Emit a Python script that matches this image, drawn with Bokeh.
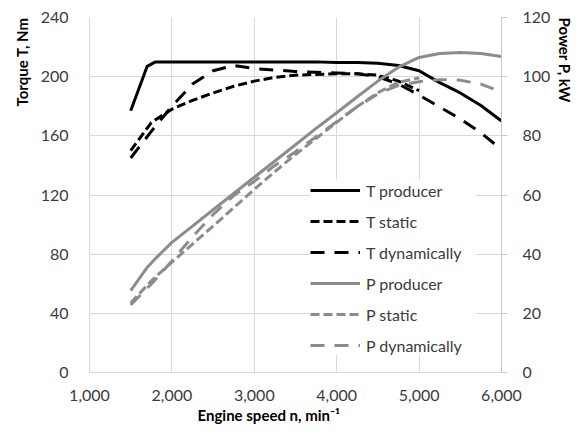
import math
from bokeh.plotting import figure
from bokeh.models import (Range1d, LinearAxis, FixedTicker, NumeralTickFormatter,
                          Legend, LegendItem, Title)
from bokeh.embed import file_html
from bokeh.resources import INLINE

# ---- data ----
rpm_producer = [1500, 1700, 1800, 2000, 2250, 2500, 2750, 3000, 3250, 3500, 3750,
                4000, 4250, 4500, 4750, 5000, 5250, 5500, 5750, 6000]
t_producer = [177, 207, 210, 210, 210, 210, 210, 210, 210, 210, 210,
              209.5, 209.5, 209, 207.5, 204, 196, 189, 180.5, 170]
p_producer = [27.7, 35.5, 38.5, 44, 49.5, 55, 60.5, 66, 71.5, 77, 82.5,
              87.8, 93.2, 98.5, 103.2, 106.5, 107.8, 108.2, 107.8, 106.8]

rpm_static = [1500, 1750, 2000, 2250, 2500, 2750, 3000, 3250, 3500, 3750,
              4000, 4250, 4500, 4750, 5000]
t_static = [150, 169, 178, 184, 189, 193.5, 197, 199.5, 201, 201.5,
            202, 202, 201, 197, 190.5]
p_static = [23.5, 31, 37.3, 43.4, 49.5, 55.7, 61.9, 67.9, 73.7, 79.1,
            84.6, 89.9, 94.6, 98.1, 99.6]

rpm_dyn = [1500, 1750, 2000, 2250, 2500, 2750, 3000, 3250, 3500, 3750,
           4000, 4250, 4500, 4750, 5000, 5250, 5500, 5750, 5950]
t_dyn = [145, 163, 180, 195, 204, 207.5, 205.5, 204.5, 203.5, 203,
         202.5, 202, 200, 195, 187.5, 179.5, 171.5, 162, 153]
p_dyn = [22.8, 29.9, 37.7, 45.9, 53.4, 59.8, 64.6, 70.0, 74.6, 79.7,
         84.8, 89.9, 94.2, 97.1, 98.3, 99.0, 98.8, 97.5, 95.4]

x_ticks = [1000, 2000, 3000, 4000, 5000, 6000]
t_ticks = [0, 40, 80, 120, 160, 200, 240]
p_ticks = [0, 20, 40, 60, 80, 100, 120]

x_title = "Engine speed n, min\u207b\u00b9"
t_title = "Torque T, Nm"
p_title = "Power P, kW"

FONT = "Lato"
TXT = "#3b3b3b"
GRID = "#d9d9d9"
BLACK = "#000000"
GRAY = "#8c8c8c"

p = figure(width=577, height=427, x_range=Range1d(1000, 6000), y_range=Range1d(0, 240),
           output_backend="svg", toolbar_location=None,
           min_border_left=89, min_border_right=72, min_border_top=17, min_border_bottom=55)
p.outline_line_color = None
p.extra_y_ranges = {"power": Range1d(0, 120)}

# x axis
xa = p.xaxis[0]
xa.ticker = FixedTicker(ticks=x_ticks)
xa.formatter = NumeralTickFormatter(format="0,0")
xa.major_tick_out = 0
xa.major_tick_in = 0
xa.minor_tick_out = 0
xa.minor_tick_in = 0
xa.axis_line_color = GRID
xa.major_label_standoff = 17
xa.major_label_text_font = FONT
xa.major_label_text_font_size = "16px"
xa.major_label_text_color = TXT

# left axis
ya = p.yaxis[0]
ya.ticker = FixedTicker(ticks=t_ticks)
ya.major_tick_out = 0
ya.major_tick_in = 0
ya.minor_tick_out = 0
ya.minor_tick_in = 0
ya.axis_line_color = GRID
ya.major_label_standoff = 21
ya.major_label_text_font = FONT
ya.major_label_text_font_size = "16px"
ya.major_label_text_color = TXT

# right axis
ra = LinearAxis(y_range_name="power", ticker=FixedTicker(ticks=p_ticks))
ra.major_tick_out = 6
ra.major_tick_in = 0
ra.minor_tick_out = 0
ra.minor_tick_in = 0
ra.axis_line_color = "#c8c8c8"
ra.major_tick_line_color = "#c8c8c8"
ra.major_label_standoff = 15
ra.major_label_text_font = FONT
ra.major_label_text_font_size = "16px"
ra.major_label_text_color = TXT
p.add_layout(ra, "right")

# axis titles as side titles (top-aligned like the reference)
tstyle = dict(text_font=FONT, text_font_style="bold", text_font_size="15px",
              text_color=BLACK)
p.add_layout(Title(text=t_title, align="right", offset=0, standoff=14, **tstyle), "left")
p.add_layout(Title(text=p_title, align="left", offset=0, standoff=4, **tstyle), "right")
p.add_layout(Title(text=x_title, align="left", offset=108, standoff=1, **tstyle), "below")

p.xgrid.ticker = FixedTicker(ticks=x_ticks)
p.ygrid.ticker = FixedTicker(ticks=t_ticks)
p.xgrid.grid_line_color = GRID
p.ygrid.grid_line_color = GRID

W = 3
r1 = p.line(rpm_producer, t_producer, line_color=BLACK, line_width=W, line_join="round")
r2 = p.line(rpm_static, t_static, line_color=BLACK, line_width=W, line_dash="9 4")
r3 = p.line(rpm_dyn, t_dyn, line_color=BLACK, line_width=W, line_dash="14 10")
r4 = p.line(rpm_producer, p_producer, line_color=GRAY, line_width=W, line_join="round",
            y_range_name="power")
r5 = p.line(rpm_static, p_static, line_color=GRAY, line_width=W, line_dash="9 4",
            y_range_name="power")
r6 = p.line(rpm_dyn, p_dyn, line_color=GRAY, line_width=W, line_dash="14 10",
            y_range_name="power")

legend = Legend(items=[
    LegendItem(label="T producer", renderers=[r1]),
    LegendItem(label="T static", renderers=[r2]),
    LegendItem(label="T dynamically", renderers=[r3]),
    LegendItem(label="P producer", renderers=[r4]),
    LegendItem(label="P static", renderers=[r5]),
    LegendItem(label="P dynamically", renderers=[r6]),
], location=(221, 17), padding=10, spacing=11, glyph_width=50, glyph_height=20,
    label_height=20, label_width=110, label_standoff=6, margin=0,
    border_line_color=None, background_fill_color="white", background_fill_alpha=1.0,
    label_text_font=FONT, label_text_font_size="16px", label_text_color=TXT)
p.add_layout(legend)

open("out.html", "w").write(file_html(p, INLINE))
